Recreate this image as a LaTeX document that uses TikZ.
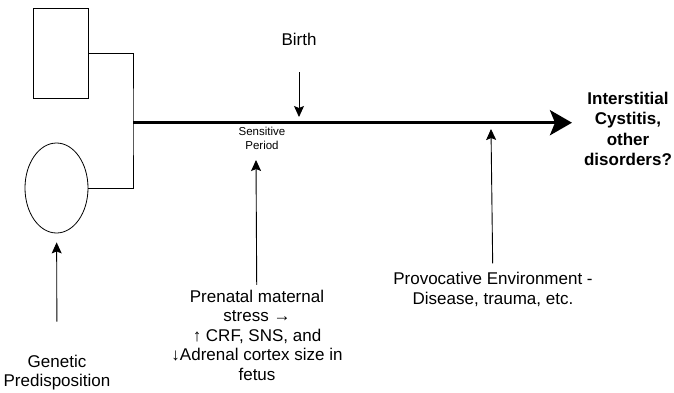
\documentclass[tikz,border=0pt]{standalone}
\usepackage{fontspec}
\setmainfont{Liberation Sans}
\usetikzlibrary{arrows.meta,positioning,shapes.geometric}
\tikzset{
  lbl/.style={align=center,inner sep=0pt,font=\fontsize{17bp}{19.5bp}\selectfont},
  tinylbl/.style={align=center,inner sep=0pt,font=\fontsize{11.5bp}{14.5bp}\selectfont},
  outlbl/.style={align=center,inner sep=0pt,font=\fontsize{17bp}{20.5bp}\selectfont\bfseries},
  sqbox/.style={draw,line width=0.8bp,minimum width=55bp,minimum height=90bp,inner sep=0pt},
  oval/.style={draw,ellipse,line width=0.8bp,minimum width=63bp,minimum height=90bp,inner sep=0pt},
  link/.style={line width=0.9bp},
  arr/.style={-{Stealth[length=11bp,width=10bp,inset=2bp]},line width=0.9bp},
  bigarr/.style={-{Stealth[length=22bp,width=25bp,inset=5bp]},line width=3.5bp},
}

\begin{document}
\begin{tikzpicture}[x=1bp,y=-1bp]
  \useasboundingbox (0,0) rectangle (674,392);
  % 1. alakzatok balra
  \node[sqbox] (rect) at (60.5,53.5) {};
  \node[oval] (egg) at (56.5,188) {};
  \coordinate (jn) at (133,122.7);
  \draw[link] (rect.east) -| (jn) |- (egg.east);
  % 2. idovonal
  \coordinate (tip) at (572,122.7);
  \draw[bigarr] (jn) -- (tip);
  \node[outlbl] (ic) at (628,129) {Interstitial\\Cystitis,\\other\\disorders?};
  % 3. feliratok a vonal korul
  \node[lbl] (birth) at (299,39.8) {Birth};
  \coordinate (btip) at (299,117);
  \draw[arr,shorten <=26bp] (birth) -- (btip);
  \node[tinylbl] (sens) at (262,138.2) {Sensitive\\Period};
  % 4. hatasok alulrol
  \node[lbl] (pren) at (257,335.3) {Prenatal maternal\\stress →\\↑ CRF, SNS, and\\↓Adrenal cortex size in\\fetus};
  \coordinate (stip) at (256,160);
  \draw[arr,shorten <=5bp] (pren) -- (stip);
  \node[lbl] (prov) at (493,289.5) {Provocative Environment -\\Disease, trauma, etc.};
  \coordinate (ptip) at (491,129);
  \draw[arr,shorten <=9bp] (prov) -- (ptip);
  \node[lbl] (gen) at (57,372.6) {Genetic\\Predisposition};
  \draw[arr,shorten <=33bp,shorten >=9bp] (gen) -- (egg);
\end{tikzpicture}
\end{document}
